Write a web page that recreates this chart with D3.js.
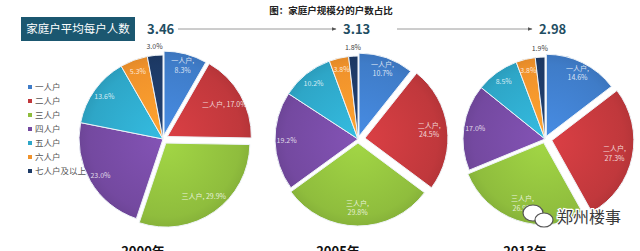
<!DOCTYPE html>
<html>
<head>
<meta charset="utf-8">
<script src="https://cdn.jsdelivr.net/npm/d3@7"></script>
<style>
  body { margin: 0; background: #fff; }
  text { font-family: "Noto Sans CJK SC", "Noto Sans", sans-serif; }
</style>
</head>
<body>
<div id="chart"></div>
<script>
// household size shares (%), one array per year
const years = ["2000年", "2005年", "2013年"];
const categories = ["一人户", "二人户", "三人户", "四人户", "五人户", "六人户", "七人户及以上"];
const share2000 = [8.3, 17.0, 29.9, 23.0, 13.6, 5.3, 3.0];
const share2005 = [10.7, 24.5, 29.8, 19.2, 10.2, 3.8, 1.8];
const share2013 = [14.6, 27.3, 26.9, 17.0, 8.5, 3.8, 1.9];
const avgSize = [3.46, 3.13, 2.98];

const shares = [share2000, share2005, share2013];

document.addEventListener("DOMContentLoaded", () => {
    const width = 640;
    const height = 251;

    const svg = d3.select("#chart")
        .append("svg")
        .attr("width", width)
        .attr("height", height);

    const colors = d3.scaleOrdinal()
        .domain(categories)
        .range(["#3f7cc8", "#c0383c", "#8fbd3d", "#7449a0", "#2ea6c7", "#f0922b", "#1d3a66"]);

    // pie centres and average-label positions
    const cx = d3.scaleOrdinal().domain(years).range([163, 358, 545]);
    const avgX = d3.scalePoint().domain(years).range([147, 539]);
    const cy = 139;
    const radius = [84, 83, 82];
    // how far the first slices are pulled out
    const explode = [[4, 5, 5, 0, 0, 0, 0], [3, 7, 4, 0, 0, 0, 0], [3, 7, 4, 0, 0, 0, 0]];

    const defs = svg.append("defs");

    const pie = d3.pie().sort(null).value(d => d.v);

    years.forEach((yr, yi) => {
        const r = radius[yi];
        const g = svg.append("g")
            .attr("transform", `translate(${cx(yr)},${cy})`);

        // radial shading per colour
        categories.forEach((c, ci) => {
            const grad = defs.append("radialGradient")
                .attr("id", `g${yi}_${ci}`)
                .attr("gradientUnits", "userSpaceOnUse")
                .attr("cx", 0).attr("cy", 0).attr("r", r + 8);
            const base = d3.color(colors(c));
            grad.append("stop").attr("offset", "0%").attr("stop-color", base.brighter(0.35));
            grad.append("stop").attr("offset", "80%").attr("stop-color", base);
            grad.append("stop").attr("offset", "100%").attr("stop-color", base.darker(0.3));
        });

        const rows = shares[yi].map((v, i) => ({ cat: categories[i], v, i }));
        const arcs = pie(rows);
        const arc = d3.arc().innerRadius(0).outerRadius(r);
        const labelArc = d3.arc().innerRadius(r * 0.78).outerRadius(r * 0.78);
        const smallArc = d3.arc().innerRadius(r * 0.86).outerRadius(r * 0.86);

        const offset = d => {
            const a = (d.startAngle + d.endAngle) / 2;
            const e = explode[yi][d.index];
            return [Math.sin(a) * e, -Math.cos(a) * e];
        };

        g.selectAll("path")
            .data(arcs)
            .enter()
            .append("path")
            .attr("d", arc)
            .attr("transform", d => `translate(${offset(d)})`)
            .attr("fill", d => `url(#g${yi}_${d.index})`)
            .attr("stroke", "#eef3f8")
            .attr("stroke-width", 1);

        // slice labels
        arcs.forEach(d => {
            const pct = d.data.v.toFixed(1) + "%";
            const [ox, oy] = offset(d);
            if (d.index === 6) {
                const a = (d.startAngle + d.endAngle) / 2;
                g.append("text")
                    .attr("x", Math.sin(a) * (r + 6))
                    .attr("y", -Math.cos(a) * (r + 6))
                    .attr("text-anchor", "middle")
                    .attr("font-size", 7)
                    .attr("fill", "#444")
                    .text(pct);
                return;
            }
            const twoLine = d.index === 0 || (d.index < 3 && yi > 0);
            const oneLineName = d.index > 0 && d.index < 3 && yi === 0;
            const p = (d.index < 3 ? labelArc : smallArc).centroid(d);
            if (d.index === 0) {
                const q = smallArc.centroid(d);
                p[0] = q[0]; p[1] = q[1];
            }
            const t = g.append("text")
                .attr("transform", `translate(${p[0] + ox},${p[1] + oy})`)
                .attr("text-anchor", "middle")
                .attr("font-size", 7)
                .attr("fill", "rgba(255,255,255,0.8)");
            if (twoLine) {
                t.append("tspan").attr("x", 0).attr("dy", "-0.3em").text(d.data.cat + ",");
                t.append("tspan").attr("x", 0).attr("dy", "1.35em").text(pct);
            } else if (oneLineName) {
                t.attr("dy", "0.35em").text(d.data.cat + ", " + pct);
            } else {
                t.attr("dy", "0.35em").text(pct);
            }
        });

        // year label
        svg.append("text")
            .attr("x", cx(yr) - 20)
            .attr("y", 256)
            .attr("text-anchor", "middle")
            .attr("font-size", 13)
            .attr("font-weight", "bold")
            .attr("fill", "#111")
            .text(yr);

        // average household size
        svg.append("text")
            .attr("x", avgX(yr))
            .attr("y", 34)
            .attr("font-size", 13)
            .attr("font-weight", "bold")
            .attr("fill", "#1f4e63")
            .text(avgSize[yi].toFixed(2));
    });

    // arrows between the averages
    defs.append("marker")
        .attr("id", "arrow")
        .attr("viewBox", "0 0 10 10")
        .attr("refX", 9).attr("refY", 5)
        .attr("markerWidth", 5).attr("markerHeight", 5)
        .attr("orient", "auto")
        .append("path")
        .attr("d", "M0,1L10,5L0,9Z")
        .attr("fill", "#555");

    const arrowStarts = [178, 397];
    years.slice(1).forEach((yr, i) => {
        svg.append("line")
            .attr("x1", arrowStarts[i])
            .attr("x2", avgX(yr) - 7)
            .attr("y1", 29).attr("y2", 29)
            .attr("stroke", "#9a9a9a")
            .attr("stroke-width", 1)
            .attr("marker-end", "url(#arrow)");
    });

    // header box
    svg.append("rect")
        .attr("x", 21).attr("y", 17)
        .attr("width", 114).attr("height", 24)
        .attr("fill", "#1b5770");
    svg.append("text")
        .attr("x", 78).attr("y", 33)
        .attr("text-anchor", "middle")
        .attr("font-size", 11.5)
        .attr("fill", "#fff")
        .text("家庭户平均每户人数");

    // title
    svg.append("text")
        .attr("x", 331).attr("y", 14)
        .attr("text-anchor", "middle")
        .attr("font-size", 9.5)
        .attr("font-weight", "bold")
        .attr("fill", "#222")
        .text("图：家庭户规模分的户数占比");

    // legend
    const legend = svg.append("g").attr("transform", "translate(28,87)");
    categories.forEach((c, i) => {
        const row = legend.append("g").attr("transform", `translate(0,${i * 14})`);
        row.append("rect")
            .attr("x", 0).attr("y", -2)
            .attr("width", 4).attr("height", 4)
            .attr("fill", colors(c));
        row.append("text")
            .attr("x", 7).attr("y", 3)
            .attr("font-size", 8.5)
            .attr("fill", "#555")
            .text(c);
    });

    // watermark
    const wm = svg.append("g").attr("transform", "translate(537,216)");
    wm.append("ellipse").attr("cx", -4).attr("cy", -3).attr("rx", 10).attr("ry", 8)
        .attr("fill", "#fff").attr("stroke", "#555").attr("stroke-width", 1.2);
    wm.append("ellipse").attr("cx", 7).attr("cy", 4).attr("rx", 9).attr("ry", 7)
        .attr("fill", "#fff").attr("stroke", "#555").attr("stroke-width", 1.2);
    wm.append("text")
        .attr("x", 20).attr("y", 7)
        .attr("font-size", 16)
        .attr("fill", "#3a3a3a")
        .attr("stroke", "#fff")
        .attr("stroke-width", 2.5)
        .attr("paint-order", "stroke")
        .text("郑州楼事");
});
</script>
</body>
</html>
